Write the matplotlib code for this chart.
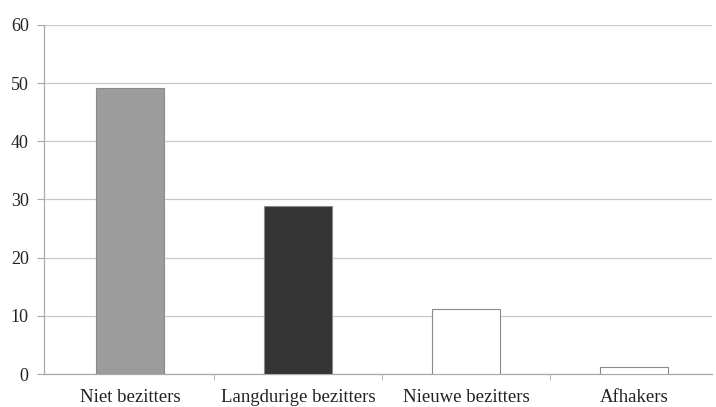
import matplotlib.pyplot as plt

categorieen = ['Niet bezitters', 'Langdurige bezitters', 'Nieuwe bezitters', 'Afhakers']
waarden = [49.2, 28.8, 11.1, 1.2]
kleuren = ['#9c9c9c', '#343434', '#ffffff', '#ffffff']

plt.rcParams['font.family'] = ['Liberation Serif', 'DejaVu Serif']

fig = plt.figure(figsize=(7.16, 4.07), dpi=100)
ax = fig.add_axes([44 / 716, 0.081, 668 / 716, 0.858])

x = range(len(categorieen))
ax.bar(x, waarden, width=0.41, color=kleuren, edgecolor='#8a8a8a', linewidth=0.8, zorder=3)

ax.set_ylim(0, 60)
ax.set_xlim(-0.512, 3.464)
ax.set_yticks(range(0, 61, 10))
ax.yaxis.grid(True, color='#c8c8c8', linewidth=0.9, zorder=0)
ax.set_xticks(list(x))
ax.set_xticklabels(categorieen)
ax.set_xticks([0.5, 1.5, 2.5], minor=True)
ax.tick_params(axis='x', which='major', length=0, pad=11, labelsize=13.5, labelcolor='#222222')
ax.tick_params(axis='x', which='minor', length=4, color='#aaaaaa')
ax.tick_params(axis='y', length=5, color='#aaaaaa', labelsize=13, labelcolor='#222222', pad=6)

for kant in ['top', 'right']:
    ax.spines[kant].set_visible(False)
for kant in ['left', 'bottom']:
    ax.spines[kant].set_color('#aaaaaa')
    ax.spines[kant].set_linewidth(0.9)

fig.savefig('out.png', dpi=100)
